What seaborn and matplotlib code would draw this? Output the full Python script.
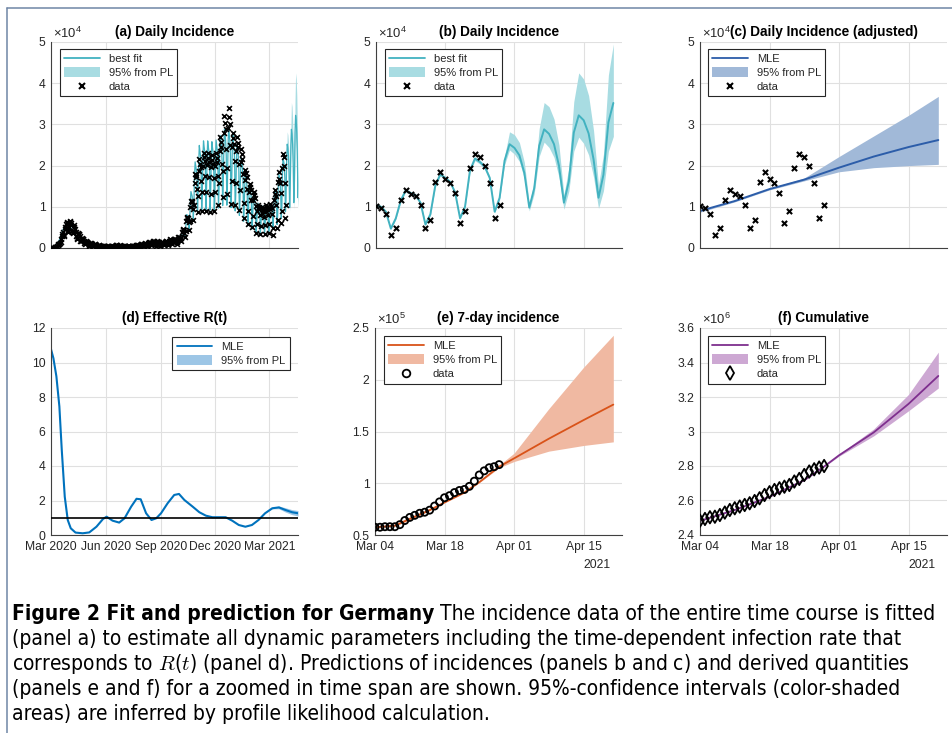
import matplotlib
matplotlib.use("Agg")
import matplotlib.pyplot as plt
from matplotlib.lines import Line2D
from matplotlib.patches import Patch
import numpy as np
import pandas as pd
import seaborn as sns

W, H = 953, 733

# ---------------- data (cases in thousands) ----------------
# daily reported cases, one row per week (Sun..Sat), from 2020-03-01
daily_weeks = [
    [0.0, 0.0, 0.0, 0.1, 0.1, 0.1, 0.2],
    [0.2, 0.3, 0.3, 0.5, 0.7, 0.9, 1.0],
    [1.0, 1.2, 1.4, 2.3, 2.9, 3.4, 3.8],
    [2.8, 3.2, 4.6, 5.2, 5.9, 6.3, 6.0],
    [4.0, 4.4, 5.0, 6.6, 6.2, 6.1, 5.5],
    [4.2, 3.7, 3.8, 5.5, 5.2, 4.6, 3.9],
    [2.8, 2.4, 2.1, 3.6, 3.4, 3.3, 3.0],
    [1.8, 1.7, 1.9, 2.4, 2.3, 2.1, 1.8],
    [1.1, 1.0, 1.2, 1.6, 1.5, 1.4, 1.2],
    [0.7, 0.6, 0.8, 1.2, 1.1, 1.0, 0.9],
    [0.5, 0.4, 0.7, 0.9, 0.9, 0.8, 0.7],
    [0.4, 0.3, 0.6, 0.75, 0.7, 0.6, 0.5],
    [0.3, 0.3, 0.4, 0.6, 0.55, 0.5, 0.4],
    [0.2, 0.2, 0.35, 0.45, 0.4, 0.4, 0.3],
    [0.2, 0.2, 0.35, 0.45, 0.45, 0.4, 0.35],
    [0.2, 0.3, 0.5, 0.75, 0.7, 0.65, 0.5],
    [0.3, 0.35, 0.55, 0.65, 0.6, 0.55, 0.45],
    [0.2, 0.25, 0.4, 0.5, 0.45, 0.45, 0.35],
    [0.2, 0.25, 0.4, 0.45, 0.45, 0.4, 0.35],
    [0.2, 0.3, 0.45, 0.55, 0.5, 0.5, 0.4],
    [0.3, 0.4, 0.65, 0.75, 0.7, 0.7, 0.55],
    [0.35, 0.5, 0.8, 0.95, 0.9, 0.85, 0.7],
    [0.4, 0.6, 0.95, 1.1, 1.05, 1.0, 0.8],
    [0.5, 0.8, 1.2, 1.4, 1.35, 1.25, 1.05],
    [0.65, 1.0, 1.5, 1.7, 1.6, 1.55, 1.3],
    [0.6, 0.9, 1.4, 1.6, 1.5, 1.45, 1.2],
    [0.55, 0.85, 1.25, 1.45, 1.4, 1.3, 1.1],
    [0.65, 1.0, 1.5, 1.7, 1.6, 1.55, 1.3],
    [0.8, 1.2, 1.8, 2.1, 2.0, 1.9, 1.6],
    [0.9, 1.35, 2.0, 2.3, 2.2, 2.1, 1.7],
    [1.0, 1.5, 2.3, 2.7, 2.6, 2.5, 2.1],
    [1.6, 2.4, 3.8, 4.5, 4.4, 4.3, 3.7],
    [2.7, 4.2, 6.5, 7.5, 7.3, 7.4, 6.2],
    [4.3, 6.6, 10.0, 11.5, 11.3, 11.2, 9.5],
    [6.9, 10.5, 15.7, 18.0, 17.6, 17.2, 14.3],
    [8.7, 12.6, 18.8, 21.5, 20.4, 19.6, 16.3],
    [9.0, 13.5, 20.0, 23.0, 22.0, 21.0, 17.5],
    [8.9, 13.6, 20.1, 23.0, 21.8, 20.8, 17.3],
    [8.8, 13.2, 19.6, 22.5, 21.4, 20.4, 17.0],
    [8.9, 13.5, 20.0, 23.0, 21.9, 20.8, 17.4],
    [10.5, 15.8, 23.6, 27.0, 25.7, 24.4, 20.3],
    [12.4, 18.6, 27.9, 32.0, 30.4, 29.0, 24.0],
    [13.0, 19.5, 29.1, 34.1, 31.8, 30.2, 25.1],
    [10.8, 16.3, 24.4, 28.0, 26.6, 25.3, 21.0],
    [10.4, 15.7, 23.5, 27.0, 25.6, 24.4, 20.3],
    [9.2, 14.0, 20.9, 24.0, 22.8, 21.7, 18.0],
    [7.3, 11.0, 16.5, 19.0, 18.1, 17.2, 14.3],
    [5.9, 9.0, 13.5, 15.5, 14.7, 14.0, 11.6],
    [5.1, 7.8, 11.7, 13.5, 12.8, 12.2, 10.1],
    [3.6, 5.8, 9.1, 10.5, 10.0, 9.5, 7.9],
    [3.3, 5.3, 8.6, 10.0, 9.5, 9.0, 7.5],
    [3.5, 5.6, 9.0, 10.5, 10.0, 9.5, 7.9],
    [3.6, 5.8, 9.4, 10.8, 10.1, 9.8, 8.3],
    [3.2, 4.9, 11.6, 14.0, 13.2, 12.6, 10.5],
    [4.9, 6.7, 15.9, 18.4, 16.7, 15.7, 13.3],
    [6.0, 8.9, 19.5, 22.7, 22.0, 20.0, 15.8],
]
daily_tail = [7.4, 10.5]

# best fit over the fitted period, one row per week, from 2020-03-01
fit_weeks = [
    [0.0, 0.0, 0.05, 0.1, 0.15, 0.2, 0.3],
    [0.4, 0.5, 0.7, 0.9, 1.1, 1.4, 1.7],
    [2.0, 2.4, 2.8, 3.2, 3.6, 4.0, 4.4],
    [4.7, 5.0, 5.3, 5.5, 5.7, 5.8, 5.9],
    [5.8, 5.7, 5.5, 5.3, 5.1, 4.9, 4.6],
    [4.3, 4.0, 3.8, 3.5, 3.3, 3.1, 2.9],
    [2.7, 2.5, 2.4, 2.2, 2.1, 1.9, 1.8],
    [1.7, 1.6, 1.5, 1.4, 1.3, 1.2, 1.1],
    [1.05, 1.0, 0.95, 0.9, 0.85, 0.8, 0.75],
    [0.7, 0.68, 0.66, 0.64, 0.62, 0.6, 0.58],
    [0.56, 0.54, 0.52, 0.5, 0.49, 0.48, 0.47],
    [0.46, 0.45, 0.44, 0.43, 0.42, 0.41, 0.4],
    [0.39, 0.38, 0.38, 0.37, 0.37, 0.36, 0.36],
    [0.35, 0.35, 0.35, 0.35, 0.35, 0.35, 0.35],
    [0.36, 0.37, 0.38, 0.4, 0.42, 0.44, 0.46],
    [0.48, 0.5, 0.52, 0.53, 0.54, 0.54, 0.54],
    [0.53, 0.52, 0.51, 0.5, 0.49, 0.48, 0.47],
    [0.46, 0.45, 0.44, 0.43, 0.43, 0.43, 0.43],
    [0.43, 0.44, 0.45, 0.46, 0.47, 0.48, 0.5],
    [0.52, 0.54, 0.56, 0.58, 0.6, 0.62, 0.64],
    [0.66, 0.68, 0.7, 0.73, 0.76, 0.79, 0.82],
    [0.85, 0.88, 0.9, 0.93, 0.96, 0.98, 1.0],
    [1.03, 1.06, 1.09, 1.12, 1.15, 1.18, 1.2],
    [1.22, 1.24, 1.26, 1.28, 1.3, 1.31, 1.32],
    [1.33, 1.34, 1.34, 1.34, 1.34, 1.33, 1.32],
    [1.31, 1.3, 1.29, 1.28, 1.28, 1.28, 1.28],
    [1.29, 1.3, 1.32, 1.34, 1.36, 1.38, 1.4],
    [1.43, 1.46, 1.5, 1.54, 1.58, 1.62, 1.66],
    [1.7, 1.74, 1.78, 1.82, 1.86, 1.9, 1.95],
    [2.0, 2.05, 2.1, 2.15, 2.2, 2.25, 2.3],
    [1.0, 1.5, 2.4, 2.9, 2.8, 2.7, 2.4],
    [1.5, 2.3, 3.8, 4.7, 4.5, 4.4, 3.9],
    [2.6, 4.0, 6.6, 8.1, 7.8, 7.6, 6.6],
    [4.5, 6.9, 11.3, 13.7, 13.1, 12.6, 10.9],
    [7.2, 10.8, 17.4, 20.9, 19.8, 18.9, 16.2],
    [8.9, 13.2, 21.0, 24.9, 23.5, 22.4, 19.2],
    [9.3, 13.8, 21.9, 26.0, 24.6, 23.5, 20.2],
    [9.3, 13.8, 22.0, 26.0, 24.6, 23.5, 20.2],
    [9.2, 13.7, 21.8, 25.8, 24.4, 23.3, 20.0],
    [9.3, 13.9, 22.1, 26.2, 24.8, 23.6, 20.4],
    [9.7, 14.4, 23.0, 27.3, 25.9, 24.7, 21.3],
    [10.3, 15.3, 24.4, 28.9, 27.4, 26.1, 22.5],
    [10.4, 15.5, 24.6, 29.1, 27.5, 26.2, 22.6],
    [9.8, 14.6, 23.2, 27.4, 25.9, 24.7, 21.2],
    [9.0, 13.4, 21.3, 25.1, 23.7, 22.6, 19.4],
    [7.9, 11.8, 18.7, 22.0, 20.8, 19.8, 17.0],
    [6.5, 9.7, 15.3, 18.0, 17.0, 16.2, 13.9],
    [5.4, 8.0, 12.8, 15.0, 14.2, 13.5, 11.6],
    [4.6, 6.9, 11.0, 12.8, 12.1, 11.6, 9.9],
    [3.9, 5.8, 9.3, 10.9, 10.3, 9.8, 8.4],
    [3.7, 5.5, 8.7, 10.2, 9.7, 9.2, 7.9],
    [3.7, 5.5, 8.8, 10.3, 9.8, 9.3, 8.0],
]
fit_tail = [3.8, 5.6, 9.0, 10.6]

# best fit and 95% band, daily from 2021-03-04 to 2021-04-21
fit_zoom = [10.5, 10.0, 8.8, 4.7, 7.2, 11.5, 14.0, 13.3, 12.8, 11.0,
            5.7, 8.2, 15.2, 17.9, 17.0, 16.0, 13.5, 7.2, 10.0, 18.8,
            21.7, 20.9, 19.7, 17.0, 8.8, 12.2, 21.2, 25.2, 24.3, 22.5,
            18.2, 9.8, 14.5, 24.8, 28.8, 27.7, 25.2, 20.0, 11.0, 16.2,
            28.0, 32.2, 31.0, 27.8, 21.5, 12.2, 17.8, 30.5, 35.2]
band_lo = [10.2, 9.7, 8.5, 4.5, 6.9, 11.1, 13.6, 12.9, 12.4, 10.7,
           5.5, 7.9, 14.8, 17.5, 16.6, 15.6, 13.2, 7.0, 9.7, 18.3,
           21.2, 20.4, 19.2, 16.5, 8.5, 11.7, 20.2, 23.8, 22.8, 21.0,
           16.8, 9.0, 13.2, 22.2, 25.7, 24.4, 22.0, 17.2, 9.4, 13.8,
           23.5, 26.9, 25.4, 22.6, 17.2, 9.6, 13.9, 23.5, 27.1]
band_hi = [10.8, 10.3, 9.1, 4.9, 7.5, 11.9, 14.4, 13.7, 13.2, 11.3,
           5.9, 8.5, 15.6, 18.3, 17.4, 16.4, 13.8, 7.4, 10.3, 19.3,
           22.2, 21.4, 20.2, 17.5, 9.1, 12.7, 22.3, 28.2, 27.5, 25.6,
           20.8, 10.7, 16.2, 29.0, 35.3, 34.3, 31.3, 25.0, 12.9, 19.5,
           35.5, 42.5, 41.0, 37.0, 28.5, 15.2, 22.8, 42.0, 49.5]

# (c) adjusted incidence
adj_dates = ["2021-03-04", "2021-03-11", "2021-03-18", "2021-03-25",
             "2021-04-01", "2021-04-08", "2021-04-15", "2021-04-21"]
adj_mle = [9.0, 11.4, 14.3, 16.6, 19.5, 22.2, 24.5, 26.2]
adj_lo = [8.7, 11.2, 14.1, 16.3, 18.5, 19.5, 20.0, 20.3]
adj_hi = [9.2, 11.6, 14.5, 17.0, 22.2, 27.2, 32.2, 36.8]

# (d) effective reproduction number
r_dates = ["2020-03-01", "2020-03-05", "2020-03-10", "2020-03-15", "2020-03-19",
           "2020-03-24", "2020-03-29", "2020-04-03", "2020-04-11", "2020-04-23",
           "2020-05-04", "2020-05-16", "2020-05-27", "2020-06-02", "2020-06-12",
           "2020-06-23", "2020-07-02", "2020-07-13", "2020-07-22", "2020-07-29",
           "2020-08-07", "2020-08-16", "2020-08-24", "2020-09-01", "2020-09-12",
           "2020-09-23", "2020-10-01", "2020-10-10", "2020-10-24", "2020-11-04",
           "2020-11-15", "2020-11-26", "2020-12-07", "2020-12-18", "2020-12-29",
           "2021-01-09", "2021-01-20", "2021-01-31", "2021-02-11", "2021-02-22",
           "2021-03-06", "2021-03-17", "2021-03-28", "2021-04-08", "2021-04-18"]
r_mle = [10.77, 10.25, 9.2, 7.45, 4.93, 2.22, 0.87, 0.39, 0.14, 0.10,
         0.15, 0.48, 0.93, 1.06, 0.83, 0.72, 0.97, 1.64, 2.10, 2.07,
         1.26, 0.87, 0.97, 1.26, 1.84, 2.32, 2.38, 2.03, 1.64, 1.32,
         1.12, 1.03, 1.03, 1.03, 0.83, 0.58, 0.48, 0.58, 0.87, 1.26,
         1.55, 1.60, 1.45, 1.32, 1.26]
r_band_dates = ["2021-02-22", "2021-03-06", "2021-03-17", "2021-03-28", "2021-04-08", "2021-04-18"]
r_band_lo = [1.26, 1.52, 1.52, 1.33, 1.18, 1.10]
r_band_hi = [1.26, 1.58, 1.68, 1.58, 1.47, 1.42]

# (e) 7-day incidence
week_data = [57.5, 57.5, 58, 58, 58, 60, 64, 67, 69, 71, 72, 74, 78,
             82, 86, 88, 91, 93, 94, 97, 102, 108, 112, 115, 116, 118]
week_dates = ["2021-03-04", "2021-03-08", "2021-03-11", "2021-03-15", "2021-03-18",
              "2021-03-22", "2021-03-25", "2021-03-29", "2021-04-01", "2021-04-08",
              "2021-04-15", "2021-04-21"]
week_mle = [57.5, 59, 65.5, 74, 81.5, 91, 101, 116, 124, 143, 161, 176]
week_lo = [57, 58.5, 64.5, 73.5, 81, 90.5, 100.5, 115, 121, 131, 136.5, 140]
week_hi = [58, 60.5, 67.5, 75.5, 82.5, 91.5, 101.5, 117.5, 129, 172, 212, 243]

# (f) cumulative cases
cum_data = [2483, 2493, 2503, 2506, 2516, 2530, 2545, 2555, 2565, 2574, 2584, 2597, 2613,
            2632, 2648, 2661, 2671, 2680, 2690, 2710, 2725, 2748, 2768, 2781, 2791, 2800]
cum_dates = ["2021-03-04", "2021-03-11", "2021-03-18", "2021-03-25", "2021-03-29",
             "2021-04-01", "2021-04-08", "2021-04-15", "2021-04-21"]
cum_mle = [2482, 2545, 2622, 2718, 2797, 2862, 2995, 3160, 3322]
cum_lo = [2480, 2543, 2620, 2716, 2795, 2857, 2975, 3120, 3252]
cum_hi = [2484, 2547, 2624, 2720, 2799, 2868, 3015, 3215, 3460]

long_ticks = ["2020-03-01", "2020-06-01", "2020-09-01", "2020-12-01", "2021-03-01"]
long_labels = ["Mar 2020", "Jun 2020", "Sep 2020", "Dec 2020", "Mar 2021"]
short_ticks = ["2021-03-04", "2021-03-18", "2021-04-01", "2021-04-15"]
short_labels = ["Mar 04", "Mar 18", "Apr 01", "Apr 15"]

caption_head = "Figure 2 Fit and prediction for Germany"
caption_lines = [
    " The incidence data of the entire time course is fitted",
    "(panel a) to estimate all dynamic parameters including the time-dependent infection rate that",
    r"corresponds to $\mathit{R}(\mathit{t})$ (panel d). Predictions of incidences (panels b and c) and derived quantities",
    "(panels e and f) for a zoomed in time span are shown. 95%-confidence intervals (color-shaded",
    "areas) are inferred by profile likelihood calculation.",
]

# ---------------- styling ----------------
sns.set_style("white")
plt.rcParams["font.family"] = ["Liberation Sans", "DejaVu Sans"]
plt.rcParams["mathtext.fontset"] = "cm"
plt.rcParams["mathtext.default"] = "regular"

CYAN, CYAN_B = "#42B2C0", "#A8DCE2"
BLUE_C, BLUE_C_B = "#2C5DA9", "#A1B9D8"
BLUE_D, BLUE_D_B = "#0072BD", "#9DC6E6"
ORANGE, ORANGE_B = "#D95319", "#F0B9A2"
PURPLE, PURPLE_B = "#7E2F8E", "#CDA8D3"
INK = "#262626"

d0 = pd.Timestamp("2020-03-01")
daily = [v for row in daily_weeks for v in row] + daily_tail
fit_early = [v for row in fit_weeks for v in row] + fit_tail
daily_x = pd.date_range(d0, periods=len(daily), freq="D")
zoom_x = pd.date_range("2021-03-04", periods=len(fit_zoom), freq="D")
fit_all = fit_early + fit_zoom
fit_x = pd.date_range(d0, periods=len(fit_all), freq="D")
zoom_data = daily[-26:]
zoom_data_x = daily_x[-26:]

fig = plt.figure(figsize=(W / 100, H / 100), dpi=100)


def add_ax(left, right, top, bottom):
    return fig.add_axes([left / W, 1 - bottom / H, (right - left) / W, (bottom - top) / H])


def finish(ax, title, xticks, xlabels, xlim, yticks, ylim, ylabels, expo=None):
    ax.set_xlim(pd.Timestamp(xlim[0]), pd.Timestamp(xlim[1]))
    ax.set_ylim(*ylim)
    ax.set_xticks(pd.to_datetime(xticks))
    ax.set_xticklabels(xlabels)
    ax.set_yticks(yticks)
    ax.set_yticklabels(ylabels)
    ax.set_xlabel("")
    ax.set_ylabel("")
    ax.grid(True, color="#E0E0E0", lw=0.8)
    ax.set_axisbelow(True)
    for s in ["top", "right"]:
        ax.spines[s].set_visible(False)
    for s in ["left", "bottom"]:
        ax.spines[s].set_color("#404040")
        ax.spines[s].set_linewidth(0.8)
    ax.tick_params(direction="in", length=3, width=0.7, labelsize=8.7,
                   colors=INK, pad=4)
    ax.set_title(title, fontsize=9.8, fontweight="bold", color="black", pad=4)
    if expo is not None:
        ax.text(0.01, 1.006, r"$\times10^{%d}$" % expo, transform=ax.transAxes,
                ha="left", va="bottom", fontsize=9.4, color=INK)


def legend(ax, line_c, band_c, marker, loc, anchor, names=("best fit", "95% from PL", "data")):
    handles = [Line2D([], [], color=line_c, lw=1.3),
               Patch(facecolor=band_c, edgecolor="none")]
    if marker == "x":
        handles.append(Line2D([], [], ls="none", marker="x", color="black", mew=1.5, ms=4))
    elif marker == "o":
        handles.append(Line2D([], [], ls="none", marker="o", mfc="none", mec="black", mew=1.3, ms=5.5))
    elif marker == "d":
        handles.append(Line2D([], [], ls="none", marker="d", mfc="none", mec="black", mew=1.3, ms=7))
    leg = ax.legend(handles, names[:len(handles)], loc=loc, bbox_to_anchor=anchor,
                    borderaxespad=0, fontsize=8.0, frameon=True, fancybox=False,
                    edgecolor=INK, framealpha=1, handlelength=3.2, handleheight=1.0,
                    borderpad=0.4, labelspacing=0.28, handletextpad=0.8)
    leg.get_frame().set_linewidth(0.8)


# ---------------- (a) ----------------
ax = add_ax(51, 298, 42, 248)
ax.fill_between(zoom_x, np.array(band_lo) / 10, np.array(band_hi) / 10, color=CYAN_B, lw=0)
sns.lineplot(x=fit_x, y=np.array(fit_all) / 10, ax=ax, color=CYAN, lw=0.9)
sns.scatterplot(x=daily_x, y=np.array(daily) / 10, ax=ax, marker="x", color="black",
                s=12, linewidth=1.2, zorder=3)
finish(ax, "(a) Daily Incidence", long_ticks, [""] * 5, ("2020-03-01", "2021-04-18"),
       range(6), (0, 5), [str(i) for i in range(6)], expo=4)
legend(ax, CYAN, CYAN_B, "x", "upper left", (0.036, 0.966))

# ---------------- (b) ----------------
ax = add_ax(376, 622, 42, 248)
ax.fill_between(zoom_x, np.array(band_lo) / 10, np.array(band_hi) / 10, color=CYAN_B, lw=0)
sns.lineplot(x=zoom_x, y=np.array(fit_zoom) / 10, ax=ax, color=CYAN, lw=1.4)
sns.scatterplot(x=zoom_data_x, y=np.array(zoom_data) / 10, ax=ax, marker="x",
                color="black", s=14, linewidth=1.5, zorder=3)
finish(ax, "(b) Daily Incidence", short_ticks, [""] * 4, ("2021-03-04", "2021-04-22 18:00"),
       range(6), (0, 5), [str(i) for i in range(6)], expo=4)
legend(ax, CYAN, CYAN_B, "x", "upper left", (0.036, 0.966))

# ---------------- (c) ----------------
ax = add_ax(700, 947, 42, 248)
adj_x = pd.to_datetime(adj_dates)
ax.fill_between(adj_x, np.array(adj_lo) / 10, np.array(adj_hi) / 10, color=BLUE_C_B, lw=0)
sns.lineplot(x=adj_x, y=np.array(adj_mle) / 10, ax=ax, color=BLUE_C, lw=1.4)
sns.scatterplot(x=zoom_data_x, y=np.array(zoom_data) / 10, ax=ax, marker="x",
                color="black", s=14, linewidth=1.5, zorder=3)
finish(ax, "(c) Daily Incidence (adjusted)", short_ticks, [""] * 4,
       ("2021-03-04", "2021-04-22 18:00"), range(6), (0, 5), [str(i) for i in range(6)], expo=4)
legend(ax, BLUE_C, BLUE_C_B, "x", "upper left", (0.032, 0.966), names=("MLE", "95% from PL", "data"))

# ---------------- (d) ----------------
ax = add_ax(51, 298, 328, 535)
rb_x = pd.to_datetime(r_band_dates)
ax.fill_between(rb_x, r_band_lo, r_band_hi, color=BLUE_D_B, lw=0)
sns.lineplot(x=pd.to_datetime(r_dates), y=r_mle, ax=ax, color=BLUE_D, lw=1.5)
ax.axhline(1, color="black", lw=1.2, zorder=3)
finish(ax, "(d) Effective R(t)", long_ticks, long_labels, ("2020-03-01", "2021-04-18"),
       range(0, 13, 2), (0, 12), [str(i) for i in range(0, 13, 2)])
legend(ax, BLUE_D, BLUE_D_B, None, "upper right", (0.967, 0.957), names=("MLE", "95% from PL"))

# ---------------- (e) ----------------
ax = add_ax(375, 622, 328, 535)
wx = pd.to_datetime(week_dates)
ax.fill_between(wx, np.array(week_lo) / 100, np.array(week_hi) / 100, color=ORANGE_B, lw=0)
sns.lineplot(x=wx, y=np.array(week_mle) / 100, ax=ax, color=ORANGE, lw=1.3)
sns.scatterplot(x=zoom_data_x, y=np.array(week_data) / 100, ax=ax, marker="o",
                facecolor="none", edgecolor="black", s=26, linewidth=1.3, zorder=3)
finish(ax, "(e) 7-day incidence", short_ticks, short_labels, ("2021-03-04", "2021-04-22 18:00"),
       [0.5, 1, 1.5, 2, 2.5], (0.5, 2.5), ["0.5", "1", "1.5", "2", "2.5"], expo=5)
ax.text(0.899, -0.145, "2021", transform=ax.transAxes, ha="center", va="center",
        fontsize=8.7, color=INK)
legend(ax, ORANGE, ORANGE_B, "o", "upper left", (0.036, 0.961), names=("MLE", "95% from PL", "data"))

# ---------------- (f) ----------------
ax = add_ax(700, 947, 328, 535)
cx = pd.to_datetime(cum_dates)
ax.fill_between(cx, np.array(cum_lo) / 1000, np.array(cum_hi) / 1000, color=PURPLE_B, lw=0)
sns.lineplot(x=cx, y=np.array(cum_mle) / 1000, ax=ax, color=PURPLE, lw=1.3)
sns.scatterplot(x=zoom_data_x, y=np.array(cum_data) / 1000, ax=ax, marker="d",
                facecolor="none", edgecolor="black", s=40, linewidth=1.3, zorder=3)
finish(ax, "(f) Cumulative", short_ticks, short_labels, ("2021-03-04", "2021-04-22 18:00"),
       [2.4, 2.6, 2.8, 3.0, 3.2, 3.4, 3.6], (2.4, 3.6),
       ["2.4", "2.6", "2.8", "3", "3.2", "3.4", "3.6"], expo=6)
ax.text(0.897, -0.145, "2021", transform=ax.transAxes, ha="center", va="center",
        fontsize=8.7, color=INK)
legend(ax, PURPLE, PURPLE_B, "d", "upper left", (0.032, 0.961), names=("MLE", "95% from PL", "data"))

# ---------------- frame and caption ----------------
frame_c = "#6F86A6"
fig.add_artist(Line2D([7.5 / W, 7.5 / W], [0, 1 - 7.5 / H], transform=fig.transFigure,
                      color=frame_c, lw=1.1))
fig.add_artist(Line2D([7.5 / W, 1], [1 - 7.5 / H, 1 - 7.5 / H], transform=fig.transFigure,
                      color=frame_c, lw=1.1))

cap_font = dict(family=["Liberation Sans Narrow", "DejaVu Sans"], stretch="condensed",
                color="black", va="center")
fig.canvas.draw()
rend = fig.canvas.get_renderer()


def put_caption(fs):
    arts = []
    y0 = 1 - 614 / H
    t1 = fig.text(12 / W, y0, caption_head, fontsize=fs, fontweight="bold", **cap_font)
    arts.append(t1)
    bb = t1.get_window_extent(rend)
    t2 = fig.text(bb.x1 / W, y0, caption_lines[0], fontsize=fs, **cap_font)
    arts.append(t2)
    for i, line in enumerate(caption_lines[1:]):
        arts.append(fig.text(12 / W, 1 - (639 + 25 * i) / H, line, fontsize=fs, **cap_font))
    return arts, t2.get_window_extent(rend).x1


arts, right = put_caption(13)
for a in arts:
    a.remove()
put_caption(13 * (937 - 12) / (right - 12))

fig.savefig("out.png", dpi=100)
